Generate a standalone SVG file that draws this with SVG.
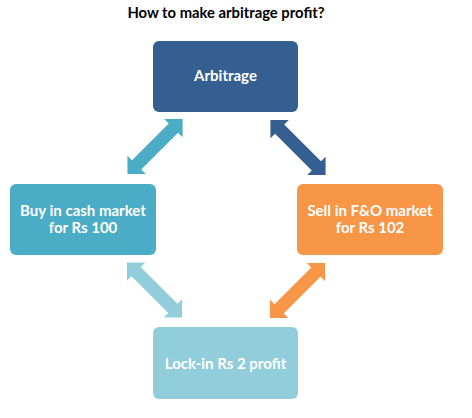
<svg xmlns="http://www.w3.org/2000/svg" width="472" height="418" viewBox="0 0 472 418">
<defs>
<style>
.title{font-family:Lato,"Open Sans","Liberation Sans",sans-serif;font-weight:bold;font-size:14.8px;fill:#000;text-anchor:middle}
.lbl{font-family:Lato,"Open Sans","Liberation Sans",sans-serif;font-weight:bold;font-size:15px;fill:#fff;text-anchor:middle}
</style>
<path id="dbl" d="M-39,0 L-26,-13 L-26,-6.5 L26,-6.5 L26,-13 L39,0 L26,13 L26,6.5 L-26,6.5 L-26,13 Z"/>
</defs>
<rect width="472" height="418" fill="#fff"/>
<text class="title" x="226" y="18">How to make arbitrage profit?</text>
<g id="connectors">
<use href="#dbl" transform="translate(155,146.5) rotate(-45)" fill="#4BACC6"/>
<use href="#dbl" transform="translate(298,147.5) rotate(45)" fill="#365F91"/>
<use href="#dbl" transform="translate(154.5,290) rotate(45)" fill="#92CDDC"/>
<use href="#dbl" transform="translate(297.5,290.5) rotate(-45)" fill="#F79646"/>
</g>
<g id="arbitrage">
<rect x="153" y="41" width="145" height="71" rx="6" fill="#365F91"/>
<text class="lbl" x="225.5" y="80.5">Arbitrage</text>
</g>
<g id="buy">
<rect x="10" y="184" width="146" height="71" rx="6" fill="#4BACC6"/>
<text class="lbl" x="83" y="215.5">Buy in cash market</text>
<text class="lbl" x="83" y="233">for Rs 100</text>
</g>
<g id="sell">
<rect x="297" y="184" width="146" height="71" rx="6" fill="#F79646"/>
<text class="lbl" x="370" y="215.5">Sell in F&amp;O market</text>
<text class="lbl" x="370" y="233">for Rs 102</text>
</g>
<g id="lockin">
<rect x="153" y="327" width="145" height="72" rx="6" fill="#92CDDC"/>
<text class="lbl" x="225.5" y="368.5">Lock-in Rs 2 profit</text>
</g>
</svg>
